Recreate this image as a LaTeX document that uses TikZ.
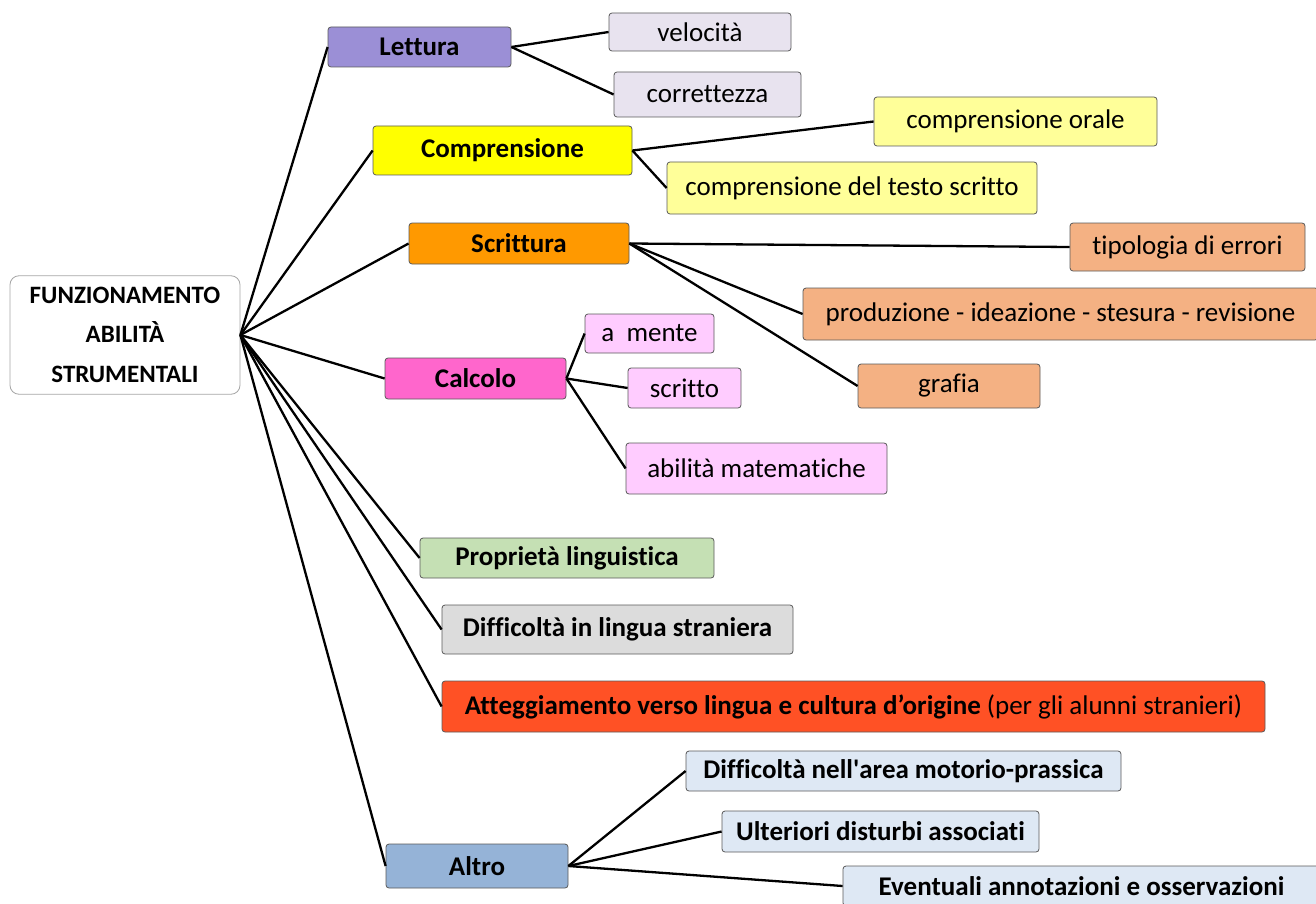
\documentclass[tikz,border=0pt]{standalone}
\usepackage{fontspec}
\setmainfont{Carlito}[Ligatures={NoCommon}]
\definecolor{cLettura}{HTML}{9B8FD6}
\definecolor{cLetturaSub}{HTML}{E8E3EF}
\definecolor{cCompr}{HTML}{FFFF00}
\definecolor{cComprSub}{HTML}{FFFF99}
\definecolor{cScritt}{HTML}{FF9900}
\definecolor{cScrittSub}{HTML}{F4B183}
\definecolor{cCalc}{HTML}{FF66CC}
\definecolor{cCalcSub}{HTML}{FFCCFF}
\definecolor{cProp}{HTML}{C5E0B4}
\definecolor{cLingua}{HTML}{DCDCDC}
\definecolor{cAtt}{HTML}{FF5125}
\definecolor{cAltro}{HTML}{95B3D7}
\definecolor{cAltroSub}{HTML}{DEE8F4}
\definecolor{cBorder}{HTML}{5A5A5A}
\tikzset{
  box/.style={draw=cBorder, line width=0.8pt, rounded corners=3pt, inner sep=0pt,
    align=center, font=\fontsize{27}{39}\selectfont},
  mainbox/.style={box, font=\fontsize{27}{39}\selectfont\bfseries},
  link/.style={line width=2.3pt, black},
}
\begin{document}
\begin{tikzpicture}[x=1pt,y=-1pt]
\useasboundingbox (0,0) rectangle (1316,904);
% central topic
\node[box, font=\fontsize{25}{39.5}\selectfont\bfseries, fill=white, draw=gray!70, rounded corners=9pt,
  minimum width=230pt, minimum height=116pt] (root) at (125,335)
  {\raisebox{-4pt}{\begin{tabular}{@{}c@{}}FUNZIONAMENTO\\ABILITÀ\\STRUMENTALI\end{tabular}}};
% main branches
\node[mainbox, fill=cLettura, minimum width=183pt, minimum height=40pt] (lett) at (419.5,47) {Lettura};
\node[mainbox, fill=cCompr, minimum width=259pt, minimum height=49pt] (comp) at (502.5,150.5) {Comprensione};
\node[mainbox, fill=cScritt, minimum width=220pt, minimum height=41pt] (scri) at (519,243.5) {Scrittura};
\node[mainbox, fill=cCalc, minimum width=181pt, minimum height=41pt] (calc) at (475.5,378.5) {Calcolo};
\node[mainbox, fill=cProp, minimum width=294pt, minimum height=40pt] (prop) at (567,558) {Proprietà linguistica};
\node[mainbox, fill=cLingua, minimum width=351pt, minimum height=49pt] (ling) at (617.5,629.5) {Difficoltà in lingua straniera};
\node[mainbox, fill=cAtt, minimum width=823pt, minimum height=51pt] (att) at (853.5,706.5)
  {Atteggiamento verso lingua e cultura d’origine \mdseries(per gli alunni stranieri)};
\node[mainbox, fill=cAltro, minimum width=182pt, minimum height=44pt] (altro) at (477,866) {Altro};
% Lettura
\node[box, fill=cLetturaSub, minimum width=182pt, minimum height=38pt] (vel) at (700,32) {velocità};
\node[box, fill=cLetturaSub, minimum width=187pt, minimum height=45pt] (corr) at (707.5,94.5) {correttezza};
% Comprensione
\node[box, fill=cComprSub, minimum width=283pt, minimum height=49pt] (orale) at (1015.5,121.5) {comprensione orale};
\node[box, fill=cComprSub, minimum width=370pt, minimum height=52pt] (testo) at (852,188) {comprensione del testo scritto};
% Scrittura
\node[box, fill=cScrittSub, minimum width=235pt, minimum height=48pt] (tipo) at (1187.5,247) {tipologia di errori};
\node[box, fill=cScrittSub, minimum width=515pt, minimum height=52pt] (prod) at (1060.5,314) {produzione - ideazione - stesura - revisione};
\node[box, fill=cScrittSub, minimum width=182pt, minimum height=44pt] (graf) at (949,386) {grafia};
% Calcolo
\node[box, fill=cCalcSub, minimum width=129pt, minimum height=39pt] (mente) at (649.5,333.5) {a\ \ mente};
\node[box, fill=cCalcSub, minimum width=113pt, minimum height=40pt] (scrit) at (684.5,388) {scritto};
\node[box, fill=cCalcSub, minimum width=261pt, minimum height=51pt] (mate) at (756.5,468.5) {abilità matematiche};
% Altro
\node[mainbox, fill=cAltroSub, minimum width=435pt, minimum height=40pt] (moto) at (903.5,771) {Difficoltà nell\textquotesingle area motorio-prassica};
\node[mainbox, fill=cAltroSub, minimum width=317pt, minimum height=41pt] (ult) at (880.5,831.5) {Ulteriori disturbi associati};
\node[mainbox, fill=cAltroSub, minimum width=477pt, minimum height=40pt] (event) at (1081.5,886) {Eventuali annotazioni e osservazioni};
% connectors
\foreach \n in {lett,comp,scri,calc,prop,ling,att,altro}
  \draw[link] (root.east) -- (\n.west);
\draw[link] (lett.east) -- (vel.west);
\draw[link] (lett.east) -- (corr.west);
\draw[link] (comp.east) -- (orale.west);
\draw[link] (comp.east) -- (testo.west);
\draw[link] (scri.east) -- (tipo.west);
\draw[link] (scri.east) -- (prod.west);
\draw[link] (scri.east) -- (graf.west);
\draw[link] (calc.east) -- (mente.west);
\draw[link] (calc.east) -- (scrit.west);
\draw[link] (calc.east) -- (mate.west);
\draw[link] (altro.east) -- (moto.west);
\draw[link] (altro.east) -- (ult.west);
\draw[link] (altro.east) -- (event.west);
\end{tikzpicture}
\end{document}
